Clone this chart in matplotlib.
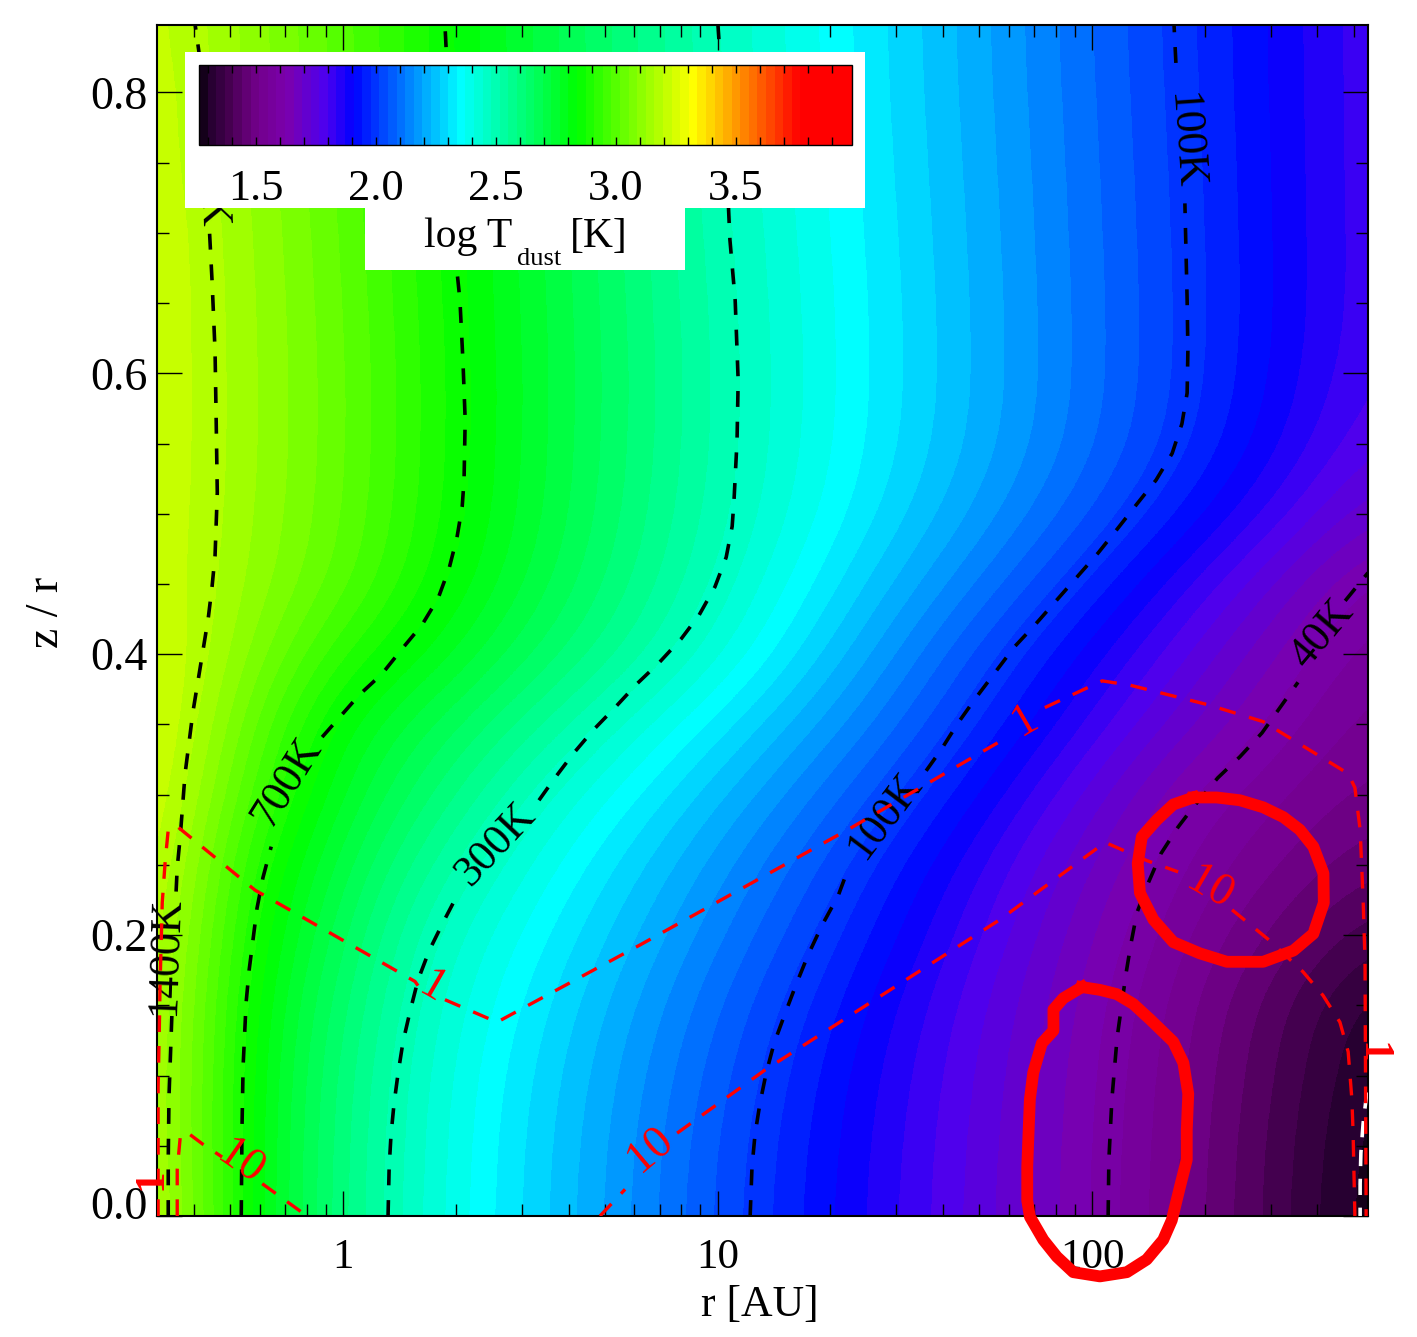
import numpy as np
import matplotlib
matplotlib.use('Agg')
import matplotlib.pyplot as plt
from matplotlib.colors import LinearSegmentedColormap, Normalize
from matplotlib.patches import Rectangle
from matplotlib.cm import ScalarMappable
from matplotlib.transforms import ScaledTranslation

plt.rcParams['font.family'] = ['Liberation Serif', 'DejaVu Serif']

# dust temperature, log T [K], rows are z/r, columns are log r [AU]
log_r = [-0.5, -0.25, 0.0, 0.25, 0.5, 0.75, 1.0, 1.25, 1.5, 1.75, 2.0, 2.25, 2.5, 2.75]
z_r = [0.0, 0.05, 0.1, 0.15, 0.2, 0.25, 0.3, 0.35, 0.4, 0.45, 0.5, 0.55, 0.6, 0.65, 0.7, 0.75, 0.8, 0.85]
log_t = [
    [3.230, 2.823, 2.589, 2.412, 2.290, 2.166, 2.043, 1.932, 1.828, 1.724, 1.620, 1.502, 1.384, 1.264],
    [3.215, 2.825, 2.593, 2.416, 2.294, 2.171, 2.049, 1.937, 1.832, 1.728, 1.622, 1.506, 1.388, 1.270],
    [3.210, 2.830, 2.603, 2.423, 2.304, 2.184, 2.065, 1.950, 1.842, 1.735, 1.626, 1.513, 1.399, 1.285],
    [3.215, 2.843, 2.627, 2.441, 2.325, 2.207, 2.090, 1.975, 1.861, 1.749, 1.636, 1.524, 1.415, 1.304],
    [3.225, 2.873, 2.664, 2.471, 2.358, 2.244, 2.130, 2.017, 1.897, 1.777, 1.655, 1.552, 1.464, 1.375],
    [3.245, 2.909, 2.708, 2.537, 2.404, 2.289, 2.174, 2.060, 1.939, 1.814, 1.687, 1.580, 1.514, 1.446],
    [3.265, 2.975, 2.762, 2.615, 2.471, 2.354, 2.238, 2.123, 2.006, 1.877, 1.746, 1.615, 1.552, 1.497],
    [3.275, 3.030, 2.805, 2.688, 2.564, 2.440, 2.319, 2.199, 2.078, 1.950, 1.823, 1.700, 1.600, 1.527],
    [3.265, 3.090, 2.910, 2.790, 2.664, 2.547, 2.421, 2.282, 2.142, 2.010, 1.886, 1.765, 1.648, 1.557],
    [3.240, 3.120, 3.000, 2.855, 2.724, 2.597, 2.471, 2.342, 2.213, 2.092, 1.968, 1.840, 1.715, 1.595],
    [3.240, 3.130, 3.020, 2.880, 2.748, 2.620, 2.494, 2.382, 2.271, 2.161, 2.051, 1.934, 1.815, 1.693],
    [3.240, 3.135, 3.025, 2.885, 2.754, 2.628, 2.503, 2.397, 2.295, 2.195, 2.093, 1.990, 1.876, 1.760],
    [3.240, 3.135, 3.025, 2.885, 2.755, 2.630, 2.504, 2.399, 2.300, 2.201, 2.101, 2.001, 1.896, 1.790],
    [3.240, 3.133, 3.020, 2.880, 2.752, 2.626, 2.500, 2.397, 2.298, 2.199, 2.100, 2.001, 1.901, 1.800],
    [3.240, 3.129, 3.015, 2.875, 2.748, 2.620, 2.494, 2.392, 2.294, 2.196, 2.097, 1.999, 1.900, 1.800],
    [3.230, 3.122, 3.008, 2.868, 2.740, 2.613, 2.487, 2.387, 2.289, 2.192, 2.094, 1.996, 1.898, 1.800],
    [3.230, 3.117, 3.002, 2.863, 2.735, 2.608, 2.482, 2.383, 2.285, 2.188, 2.090, 1.992, 1.896, 1.800],
    [3.220, 3.111, 2.998, 2.860, 2.733, 2.606, 2.478, 2.380, 2.282, 2.185, 2.087, 1.989, 1.895, 1.800],
]

# isotherms as (log r, z/r), NaN leaves room for the labels
t1400_x = [-0.467, -0.467, -0.465, -0.459, -0.457, np.nan, -0.446, -0.443, -0.435, -0.422, -0.401, -0.374,
           -0.360, -0.350, -0.342, -0.336, -0.339, -0.342, -0.350, -0.358, np.nan, -0.382, -0.395]
t1400_z = [0.0, 0.040, 0.085, 0.130, 0.145, np.nan, 0.231, 0.248, 0.270, 0.315, 0.359, 0.403,
           0.426, 0.448, 0.470, 0.515, 0.567, 0.616, 0.666, 0.707, np.nan, 0.823, 0.848]
t700_x = [-0.272, -0.270, -0.267, -0.259, -0.251, -0.240, -0.230, -0.214, -0.192, np.nan, -0.056, -0.013,
          0.043, 0.104, 0.158, 0.211, 0.254, 0.283, 0.304, 0.318, 0.323, 0.326, 0.320, 0.312, 0.304, 0.291,
          0.278, 0.272]
t700_z = [0.0, 0.063, 0.107, 0.152, 0.175, 0.198, 0.219, 0.241, 0.263, np.nan, 0.341, 0.354,
          0.371, 0.386, 0.404, 0.421, 0.440, 0.461, 0.483, 0.505, 0.524, 0.567, 0.609, 0.652, 0.673, 0.730,
          0.816, 0.848]
t300_x = [0.120, 0.123, 0.128, 0.136, 0.147, 0.160, 0.179, 0.200, 0.230, 0.267, 0.304, np.nan, 0.523, 0.563,
          0.614, 0.668, 0.726, 0.785, 0.844, 0.903, 0.951, 0.993, 1.023, 1.039, 1.044, 1.052, 1.055, 1.047,
          1.033, 1.020, 1.001]
t300_z = [0.0, 0.035, 0.058, 0.080, 0.102, 0.124, 0.146, 0.168, 0.189, 0.209, 0.228, np.nan, 0.296, 0.311,
          0.329, 0.346, 0.362, 0.379, 0.394, 0.411, 0.428, 0.448, 0.469, 0.491, 0.510, 0.552, 0.595, 0.652,
          0.695, 0.773, 0.848]
t100_x = [1.087, 1.092, 1.100, 1.113, 1.130, 1.151, 1.180, 1.210, 1.242, 1.279, 1.322, 1.343, np.nan, 1.557,
          1.597, 1.642, 1.690, 1.741, 1.792, 1.848, 1.904, 1.960, 2.016, 2.067, 2.120, 2.171, 2.214, 2.240,
          2.254, 2.256, 2.254, 2.248, np.nan, 2.224, 2.219]
t100_z = [0.0, 0.035, 0.058, 0.080, 0.102, 0.123, 0.144, 0.165, 0.186, 0.207, 0.228, 0.243, np.nan, 0.317,
          0.332, 0.351, 0.369, 0.387, 0.405, 0.421, 0.438, 0.455, 0.472, 0.489, 0.507, 0.524, 0.543, 0.564,
          0.586, 0.616, 0.652, 0.721, np.nan, 0.821, 0.848]
t40_x = [2.043, 2.045, 2.053, 2.067, 2.091, 2.104, 2.120, 2.150, 2.184, 2.230, 2.270, 2.336, 2.395, 2.454,
         2.502, 2.550, np.nan, 2.676, 2.737]
t40_z = [0.0, 0.040, 0.083, 0.127, 0.173, 0.194, 0.216, 0.237, 0.258, 0.277, 0.291, 0.312, 0.327, 0.344,
         0.362, 0.380, np.nan, 0.438, 0.458]

iso_labels = ['1400K', '1400K', '700K', '300K', '100K', '100K', '40K']
iso_label_x = [-0.475, -0.360, -0.150, 0.409, 1.447, 2.248, 2.614]
iso_label_z = [0.185, 0.745, 0.309, 0.265, 0.285, 0.766, 0.414]
iso_label_rot = [88, -88, 58, 47, 53, -86, 50]

# optical depth contours
tau1_x = [-0.494, -0.494, -0.491, -0.489, -0.483, -0.475, -0.467, -0.446, -0.235, 0.192, 0.200, np.nan,
          0.272, 0.411, 0.793, 1.354, 1.768, np.nan, 1.874, 2.027, 2.101, 2.310, 2.457, 2.684, 2.702,
          2.716, 2.724, 2.729, 2.732]
tau1_z = [0.0, 0.092, 0.130, 0.163, 0.223, 0.253, 0.275, 0.278, 0.232, 0.167, 0.164, np.nan,
          0.154, 0.138, 0.193, 0.276, 0.340, np.nan, 0.362, 0.381, 0.378, 0.364, 0.352, 0.315, 0.305,
          0.275, 0.225, 0.182, 0.0]
tau10_x = [0.686, 0.753, np.nan, 0.892, 1.127, 1.754, 2.035, 2.147, 2.230, np.nan, 2.374, 2.475, 2.563,
           2.617, 2.662, 2.684, 2.694, 2.697, 2.702]
tau10_z = [0.0, 0.019, np.nan, 0.059, 0.104, 0.211, 0.266, 0.253, 0.245, np.nan, 0.218, 0.196, 0.174,
           0.157, 0.138, 0.117, 0.083, 0.061, 0.0]
tau10_in_x = [-0.443, -0.443, -0.435, -0.419, -0.374, -0.323, np.nan, -0.216, -0.107, -0.099]
tau10_in_z = [0.0, 0.033, 0.056, 0.060, 0.051, 0.042, np.nan, 0.023, 0.002, 0.0]

# coldest isotherm in the outer corner
cold_x = [2.734, 2.724, 2.718, 2.716, 2.716]
cold_z = [0.088, 0.066, 0.045, 0.023, 0.0]

tau_labels = ['1', '1', '10', '10', '10']
tau_label_x = [0.238, 1.821, -0.275, 0.820, 2.315]
tau_label_z = [0.162, 0.353, 0.038, 0.047, 0.233]
tau_label_rot = [-30, 30, -35, 40, -30]

# the two regions ringed by hand
ring_low_x = [1.973, 2.021, 2.066, 2.110, 2.155, 2.217, 2.244, 2.257, 2.253, 2.253, 2.235, 2.213, 2.190, 2.146,
              2.093, 2.021, 1.950, 1.906, 1.870, 1.834, 1.827, 1.827, 1.830, 1.834, 1.843, 1.866, 1.897,
              1.897, 1.923, 1.973]
ring_low_z = [0.163, 0.161, 0.158, 0.151, 0.140, 0.124, 0.109, 0.087, 0.061, 0.040, 0.021, -0.003, -0.017, -0.031,
              -0.040, -0.043, -0.040, -0.029, -0.017, -0.0005, 0.011, 0.035, 0.056, 0.083, 0.102, 0.123, 0.132,
              0.147, 0.155, 0.163]
ring_up_x = [2.271, 2.333, 2.395, 2.457, 2.511, 2.555, 2.591, 2.618, 2.619, 2.591, 2.538, 2.457, 2.360, 2.288,
             2.217, 2.164, 2.128, 2.122, 2.133, 2.173, 2.217, 2.271]
ring_up_z = [0.298, 0.298, 0.296, 0.291, 0.284, 0.275, 0.263, 0.244, 0.223, 0.201, 0.189, 0.181, 0.181, 0.187,
             0.195, 0.211, 0.230, 0.251, 0.270, 0.282, 0.293, 0.298]

cmap_nodes = [(0.0, (0.08, 0, 0.1)), (0.014, (0.16, 0, 0.2)), (0.04, (0.27, 0, 0.31)), (0.062, (0.37, 0, 0.43)),
              (0.086, (0.45, 0, 0.55)), (0.13, (0.48, 0, 0.68)), (0.19, (0.30, 0, 0.94)),
              (0.233, (0, 0, 1)), (0.40, (0, 1, 1)), (0.58, (0, 1, 0)), (0.76, (1, 1, 0)),
              (0.925, (1, 0, 0)), (1.0, (1, 0, 0))]
cmap = LinearSegmentedColormap.from_list('idl_rainbow', cmap_nodes, N=76)
vmin, vmax = 1.262, 3.983

fig = plt.figure(figsize=(14.17, 13.37), dpi=100)
ax = fig.add_axes([157 / 1417, 1 - 1216 / 1337, 1211 / 1417, 1191 / 1337])

dx = (log_r[1] - log_r[0]) / 2
dz = (z_r[1] - z_r[0]) / 2
ax.imshow(np.array(log_t), origin='lower', aspect='auto', cmap=cmap, vmin=vmin, vmax=vmax,
          extent=[log_r[0] - dx, log_r[-1] + dx, z_r[0] - dz, z_r[-1] + dz],
          interpolation='bicubic', interpolation_stage='data')

for xs, zs in [(t1400_x, t1400_z), (t700_x, t700_z), (t300_x, t300_z), (t100_x, t100_z), (t40_x, t40_z)]:
    ax.plot(xs, zs, color='k', lw=2.6, dashes=(4.4, 4.1), zorder=3)
for s, x, z, rot in zip(iso_labels, iso_label_x, iso_label_z, iso_label_rot):
    ax.text(x, z, s, color='k', fontsize=31.5, rotation=rot, ha='center', va='center', zorder=3)

ax.plot(cold_x, cold_z, color='w', lw=2.6, dashes=(4.5, 3.5), zorder=4)
for xs, zs in [(tau1_x, tau1_z), (tau10_x, tau10_z), (tau10_in_x, tau10_in_z)]:
    ax.plot(xs, zs, color='r', lw=2.4, dashes=(5.0, 4.2), zorder=5)
for s, x, z, rot in zip(tau_labels, tau_label_x, tau_label_z, tau_label_rot):
    ax.text(x, z, s, color='r', fontsize=33, rotation=rot, ha='center', va='center', zorder=6)
ax.text(-0.513, 0.026, '1', color='r', fontsize=31, fontweight='bold', rotation=90,
        ha='center', va='center', zorder=6)
ax.text(2.746, 0.116, '1', color='r', fontsize=31, fontweight='bold', rotation=-90,
        ha='center', va='center', zorder=6)

for xs, zs in [(ring_low_x, ring_low_z), (ring_up_x, ring_up_z)]:
    ax.plot(xs, zs, color='r', lw=8.5, solid_joinstyle='round', clip_on=False, zorder=8)

ax.set_xlim(-0.497, 2.737)
ax.set_ylim(0, 0.848)

x_major = [0, 1, 2]
x_minor = [np.log10(m * d) for d in (0.1, 1, 10, 100) for m in range(2, 10)]
x_minor = [v for v in x_minor if -0.497 < v < 2.737]
ax.set_xticks(x_major)
ax.set_xticklabels(['1', '10', '100'])
ax.set_xticks(x_minor, minor=True)
ax.set_yticks([0.0, 0.2, 0.4, 0.6, 0.8])
ax.set_yticklabels(['0.0', '0.2', '0.4', '0.6', '0.8'])
ax.set_yticks(np.arange(0.05, 0.85, 0.05), minor=True)
ax.tick_params(which='major', direction='in', top=True, right=True, length=18, width=1)
ax.tick_params(which='minor', direction='in', top=True, right=True, length=8.6, width=1)
ax.tick_params(axis='x', which='major', pad=16, labelsize=31)
ax.tick_params(axis='y', which='major', pad=6.5, labelsize=33)
# the lowest label sits a little above its tick
first = ax.get_yticklabels()[0]
first.set_transform(first.get_transform() + ScaledTranslation(0, 13 / 100, fig.dpi_scale_trans))
for s in ax.spines.values():
    s.set_linewidth(1.5)

ax.set_xlabel('r [AU]', fontsize=31.5, va='center')
ax.xaxis.set_label_coords(0.498, -0.0747)
ax.set_ylabel('z / r', fontsize=33, va='center')
ax.yaxis.set_label_coords(-0.091, 0.507)

# white panel behind the colour bar
ax.add_patch(Rectangle((0.0231, 0.8463), 0.5615, 0.131, transform=ax.transAxes, fc='w', ec='none', zorder=10))
ax.add_patch(Rectangle((0.1718, 0.7943), 0.2642, 0.0521, transform=ax.transAxes, fc='w', ec='none', zorder=10))

cax = fig.add_axes([199 / 1417, 1 - 145 / 1337, 653 / 1417, 80 / 1337], zorder=6)
cb = fig.colorbar(ScalarMappable(norm=Normalize(vmin, vmax), cmap=cmap), cax=cax, orientation='horizontal')
cb.set_ticks([1.5, 2.0, 2.5, 3.0, 3.5])
cb.set_ticklabels(['1.5', '2.0', '2.5', '3.0', '3.5'])
cax.set_xticks(np.arange(1.3, 3.95, 0.1), minor=True)
cax.tick_params(which='both', direction='in', top=True, bottom=True, length=6, width=1)
cax.tick_params(axis='x', which='major', labelsize=32, pad=17)
cb.outline.set_linewidth(1)

fig.text(424 / 1417, 1 - 247 / 1337, 'log T', fontsize=30, ha='left', va='baseline')
fig.text(517 / 1417, 1 - 265 / 1337, 'dust', fontsize=19, ha='left', va='baseline')
fig.text(570 / 1417, 1 - 247 / 1337, '[K]', fontsize=30, ha='left', va='baseline')

fig.savefig('out.png', dpi=100)
